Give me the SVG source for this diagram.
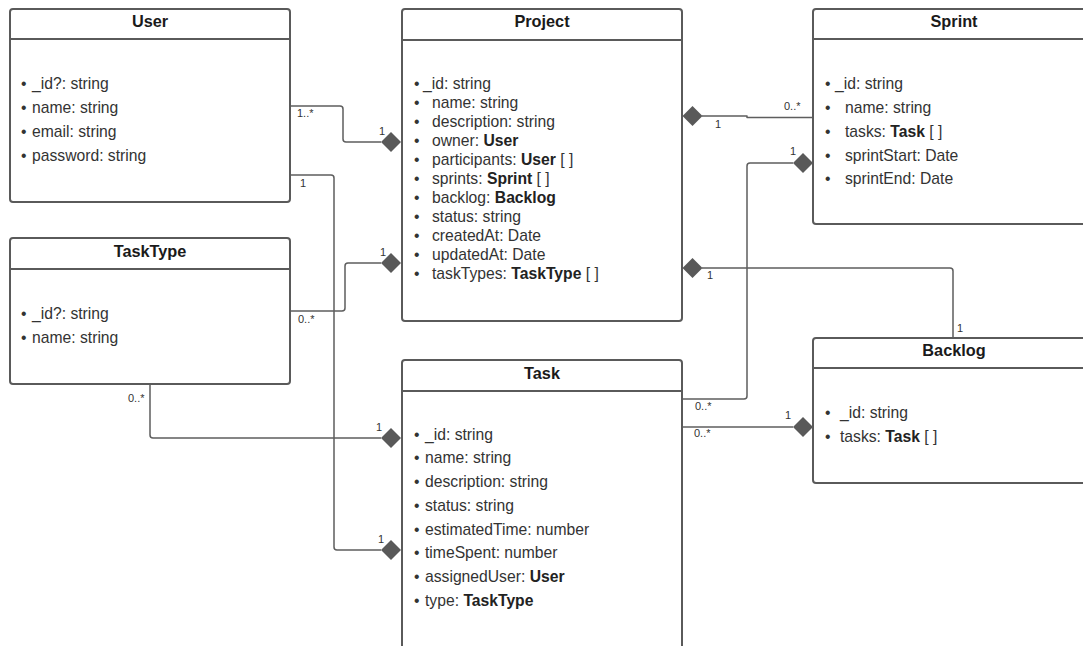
<svg xmlns="http://www.w3.org/2000/svg" width="1083" height="646" viewBox="0 0 1083 646">
<style>
.box{fill:#fff;stroke:#5a5a5a;stroke-width:2}
.div{stroke:#5a5a5a;stroke-width:2}
.title{font-family:"Liberation Sans",Arial,sans-serif;font-size:16.3px;font-weight:bold;fill:#1a1a1a;text-anchor:middle}
.attr{font-family:"Liberation Sans",Arial,sans-serif;font-size:15.7px;fill:#333}
.attr tspan.b{font-weight:bold;fill:#222}
.conn{fill:none;stroke:#5e5e5e;stroke-width:1.5;stroke-linejoin:round}
.dia{fill:#595959}
.lbl{font-family:"Liberation Sans",Arial,sans-serif;font-size:11px;fill:#333}
</style>
<rect width="1083" height="646" fill="#fff"/>

<g id="connectors">
<path class="conn" d="M290,106 H340 Q343,106 343,109 V139 Q343,142 346,142 H381"/>
<path class="dia" d="M381,142 L391,132 L401,142 L391,152 Z"/>
<path class="conn" d="M290,175 H331 Q334,175 334,178 V547 Q334,550 337,550 H381"/>
<path class="dia" d="M381,550 L391,540 L401,550 L391,560 Z"/>
<path class="conn" d="M290,311 H342 Q345,311 345,308 V266 Q345,263 348,263 H381"/>
<path class="dia" d="M381,263 L391,253 L401,263 L391,273 Z"/>
<path class="conn" d="M150,384 V435 Q150,438 153,438 H381"/>
<path class="dia" d="M381,438 L391,428 L401,438 L391,448 Z"/>
<path class="conn" d="M702,116 H747 V117.5 H813"/>
<path class="dia" d="M682.5,116 L692.5,106 L702.5,116 L692.5,126 Z"/>
<path class="conn" d="M682,399 H744 Q747,399 747,396 V166 Q747,163 750,163 H793"/>
<path class="dia" d="M793,163 L803,153 L813,163 L803,173 Z"/>
<path class="conn" d="M682,427 H793"/>
<path class="dia" d="M793,427 L803,417 L813,427 L803,437 Z"/>
<path class="conn" d="M702,268 H950 Q953,268 953,271 V338"/>
<path class="dia" d="M682.5,268 L692.5,258 L702.5,268 L692.5,278 Z"/>
<text class="lbl" x="297" y="117">1..*</text>
<text class="lbl" x="379" y="135">1</text>
<text class="lbl" x="300" y="187">1</text>
<text class="lbl" x="378" y="543">1</text>
<text class="lbl" x="298" y="323">0..*</text>
<text class="lbl" x="380" y="256">1</text>
<text class="lbl" x="128" y="402">0..*</text>
<text class="lbl" x="376" y="431">1</text>
<text class="lbl" x="784" y="110">0..*</text>
<text class="lbl" x="715" y="128">1</text>
<text class="lbl" x="790" y="155">1</text>
<text class="lbl" x="695" y="410">0..*</text>
<text class="lbl" x="694" y="437">0..*</text>
<text class="lbl" x="785" y="419">1</text>
<text class="lbl" x="707" y="279">1</text>
<text class="lbl" x="957" y="332">1</text>
</g>

<g id="User">
<rect class="box" x="10" y="9" width="280" height="193" rx="3"/>
<line class="div" x1="10" y1="39" x2="290" y2="39"/>
<text class="title" x="150" y="27">User</text>
<text class="attr" x="21" y="89">•</text><text class="attr" x="32" y="89">_id?: string</text>
<text class="attr" x="21" y="113">•</text><text class="attr" x="32" y="113">name: string</text>
<text class="attr" x="21" y="137">•</text><text class="attr" x="32" y="137">email: string</text>
<text class="attr" x="21" y="161">•</text><text class="attr" x="32" y="161">password: string</text>
</g>

<g id="TaskType">
<rect class="box" x="10" y="238" width="280" height="146" rx="3"/>
<line class="div" x1="10" y1="269" x2="290" y2="269"/>
<text class="title" x="150" y="257">TaskType</text>
<text class="attr" x="21" y="319">•</text><text class="attr" x="32" y="319">_id?: string</text>
<text class="attr" x="21" y="343">•</text><text class="attr" x="32" y="343">name: string</text>
</g>

<g id="Project">
<rect class="box" x="402" y="9" width="280" height="312" rx="3"/>
<line class="div" x1="402" y1="40" x2="682" y2="40"/>
<text class="title" x="542" y="27">Project</text>
<text class="attr" x="414" y="89">•</text><text class="attr" x="423" y="89">_id: string</text>
<text class="attr" x="414" y="108">•</text><text class="attr" x="432" y="108">name: string</text>
<text class="attr" x="414" y="127">•</text><text class="attr" x="432" y="127">description: string</text>
<text class="attr" x="414" y="146">•</text><text class="attr" x="432" y="146">owner: <tspan class="b">User</tspan></text>
<text class="attr" x="414" y="165">•</text><text class="attr" x="432" y="165">participants: <tspan class="b">User</tspan> [ ]</text>
<text class="attr" x="414" y="184">•</text><text class="attr" x="432" y="184">sprints: <tspan class="b">Sprint</tspan> [ ]</text>
<text class="attr" x="414" y="203">•</text><text class="attr" x="432" y="203">backlog: <tspan class="b">Backlog</tspan></text>
<text class="attr" x="414" y="222">•</text><text class="attr" x="432" y="222">status: string</text>
<text class="attr" x="414" y="241">•</text><text class="attr" x="432" y="241">createdAt: Date</text>
<text class="attr" x="414" y="260">•</text><text class="attr" x="432" y="260">updatedAt: Date</text>
<text class="attr" x="414" y="279">•</text><text class="attr" x="432" y="279">taskTypes: <tspan class="b">TaskType</tspan> [ ]</text>
</g>

<g id="Sprint">
<rect class="box" x="813" y="9" width="282" height="215" rx="3"/>
<line class="div" x1="813" y1="39" x2="1095" y2="39"/>
<text class="title" x="954" y="27">Sprint</text>
<text class="attr" x="825" y="89">•</text><text class="attr" x="835" y="89">_id: string</text>
<text class="attr" x="825" y="113">•</text><text class="attr" x="845" y="113">name: string</text>
<text class="attr" x="825" y="137">•</text><text class="attr" x="845" y="137">tasks: <tspan class="b">Task</tspan> [ ]</text>
<text class="attr" x="825" y="161">•</text><text class="attr" x="845" y="161">sprintStart: Date</text>
<text class="attr" x="825" y="184">•</text><text class="attr" x="845" y="184">sprintEnd: Date</text>
</g>

<g id="Backlog">
<rect class="box" x="813" y="338" width="282" height="145" rx="3"/>
<line class="div" x1="813" y1="368" x2="1095" y2="368"/>
<text class="title" x="954" y="356">Backlog</text>
<text class="attr" x="825" y="418">•</text><text class="attr" x="840" y="418">_id: string</text>
<text class="attr" x="825" y="442">•</text><text class="attr" x="840" y="442">tasks: <tspan class="b">Task</tspan> [ ]</text>
</g>

<g id="Task">
<rect class="box" x="402" y="360" width="280" height="300" rx="3"/>
<line class="div" x1="402" y1="391" x2="682" y2="391"/>
<text class="title" x="542" y="379">Task</text>
<text class="attr" x="414" y="440">•</text><text class="attr" x="425" y="440">_id: string</text>
<text class="attr" x="414" y="463">•</text><text class="attr" x="425" y="463">name: string</text>
<text class="attr" x="414" y="487">•</text><text class="attr" x="425" y="487">description: string</text>
<text class="attr" x="414" y="511">•</text><text class="attr" x="425" y="511">status: string</text>
<text class="attr" x="414" y="535">•</text><text class="attr" x="425" y="535">estimatedTime: number</text>
<text class="attr" x="414" y="558">•</text><text class="attr" x="425" y="558">timeSpent: number</text>
<text class="attr" x="414" y="582">•</text><text class="attr" x="425" y="582">assignedUser: <tspan class="b">User</tspan></text>
<text class="attr" x="414" y="606">•</text><text class="attr" x="425" y="606">type: <tspan class="b">TaskType</tspan></text>
</g>
</svg>
